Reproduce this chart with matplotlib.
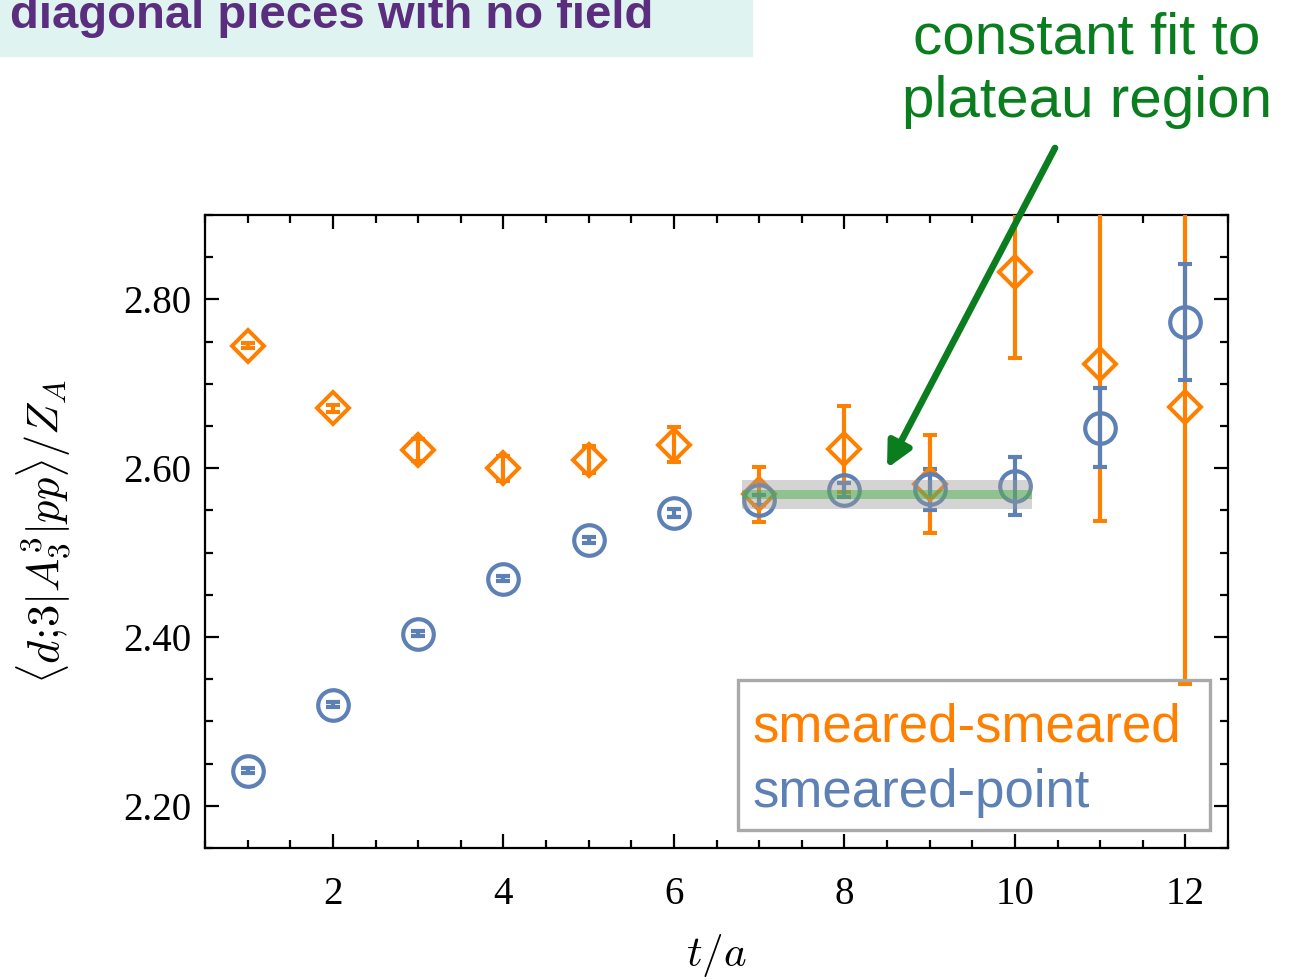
import matplotlib; matplotlib.use("Agg")
import matplotlib.pyplot as plt
from matplotlib.patches import Rectangle
import numpy as np

plt.rcParams.update({"mathtext.fontset": "cm", "font.family": "Liberation Serif"})

ORANGE = "#ff8000"
BLUE = "#5e81b5"
GREEN = "#0a7d1e"

t = np.arange(1, 13)

# smeared-smeared
ss_val = [2.745, 2.671, 2.622, 2.600, 2.610, 2.628, 2.569, 2.623, 2.581, 2.832, 2.723, 2.672]
ss_err = [0.003, 0.004, 0.013, 0.015, 0.016, 0.021, 0.033, 0.051, 0.058, 0.102, 0.186, 0.328]

# smeared-point
sp_val = [2.2415, 2.320, 2.404, 2.469, 2.515, 2.547, 2.562, 2.574, 2.575, 2.579, 2.648, 2.773]
sp_err = [0.003, 0.003, 0.003, 0.003, 0.004, 0.005, 0.006, 0.008, 0.024, 0.034, 0.047, 0.069]

# constant fit over the plateau
fit_range = [6.8, 10.2]
fit_val = 2.5688
fit_err = 0.0168
fit_line_hw = 0.0055

fig = plt.figure(figsize=(13.01, 9.8), dpi=100)
ax = fig.add_axes([0.1576, 0.1347, 0.7863, 0.6459])

ax.errorbar(t, ss_val, yerr=ss_err, fmt="D", ms=16, mfc="none", mec=ORANGE, mew=2.9,
            color=ORANGE, elinewidth=3.0, capsize=5, capthick=3.8, zorder=3)
ax.errorbar(t, sp_val, yerr=sp_err, fmt="o", ms=22, mfc="none", mec=BLUE, mew=3.0,
            color=BLUE, elinewidth=3.0, capsize=5, capthick=3.8, zorder=3)

ax.fill_between(fit_range, fit_val - fit_err, fit_val + fit_err, color="#9a9a9a",
                alpha=0.42, lw=0, zorder=4)
ax.fill_between(fit_range, fit_val - fit_line_hw, fit_val + fit_line_hw, color="#3fae3f",
                alpha=0.45, lw=0, zorder=5)

ax.set_xlim(0.5, 12.5)
ax.set_ylim(2.15, 2.90)
ax.set_xticks([2, 4, 6, 8, 10, 12])
ax.set_xticks(np.arange(0.5, 12.6, 0.5), minor=True)
ax.set_yticks([2.20, 2.40, 2.60, 2.80])
ax.set_yticklabels(["2.20", "2.40", "2.60", "2.80"])
ax.set_yticks(np.arange(2.15, 2.91, 0.05), minor=True)
ax.tick_params(which="both", direction="in", top=True, right=True, labelsize=28, width=1.6)
ax.tick_params(which="major", length=10)
ax.tick_params(which="minor", length=6)
ax.tick_params(axis="x", pad=20)
ax.tick_params(axis="y", pad=10)
for s in ax.spines.values():
    s.set_linewidth(1.6)

ax.set_xlabel(r"$t/a$", fontsize=31, labelpad=14)
ax.set_ylabel(r"$\langle d{;}\!3|A_3^3|pp\rangle/Z_A$", fontsize=32, labelpad=36)

# legend box
ax.add_patch(Rectangle((0.521, 0.028), 0.461, 0.237, transform=ax.transAxes,
                       fill=False, ec="#a9a9a9", lw=2.4, zorder=6))
ax.text(0.535, 0.190, "smeared-smeared", transform=ax.transAxes, color=ORANGE,
        fontsize=38, family="Liberation Sans", va="center", zorder=7)
ax.text(0.535, 0.087, "smeared-point", transform=ax.transAxes, color=BLUE,
        fontsize=38, family="Liberation Sans", va="center", zorder=7)

# arrow to the fit band
ax.annotate("", xy=(8.5, 2.600), xycoords="data",
            xytext=(1055 / 1301, 1 - 148 / 980), textcoords="figure fraction",
            arrowprops=dict(arrowstyle="-|>,head_length=1.5,head_width=0.75",
                            color=GREEN, lw=4.8, shrinkA=0, shrinkB=0),
            annotation_clip=False, zorder=8)
fig.text(1087 / 1301, 1 - 70 / 980, "constant fit to\nplateau region", color=GREEN,
         fontsize=42, family="Liberation Sans", ha="center", va="center",
         multialignment="center", linespacing=1.22)

# header strip
fig.patches.append(Rectangle((0, 1 - 56 / 980), 752 / 1301, 56 / 980,
                             transform=fig.transFigure, color="#dff3f0", zorder=0))
fig.text(10 / 1301, 1 - 28 / 980, "diagonal pieces with no field", color="#5b2d7e",
         fontsize=34, family="Liberation Sans", weight="bold", va="baseline")

fig.savefig("out.png", dpi=100)
